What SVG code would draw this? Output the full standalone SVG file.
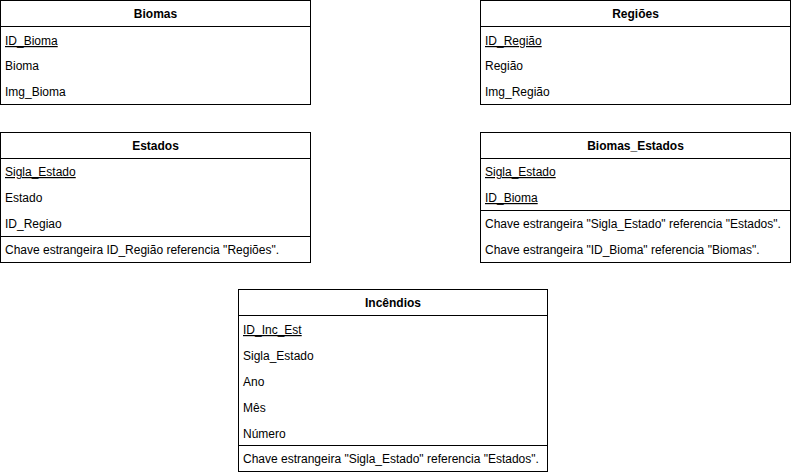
<svg xmlns="http://www.w3.org/2000/svg" width="792" height="476" viewBox="0 0 792 476">
<style>
.box{fill:#ffffff;stroke:#000000;stroke-width:1}
.ln{stroke:#000000;stroke-width:1;fill:none}
text{font-family:"Liberation Sans",Arial,Helvetica,sans-serif;font-size:12px;fill:#000000}
.h{font-weight:bold;text-anchor:middle}
.k{text-decoration:underline}
</style>
<rect width="792" height="476" fill="#ffffff"/>
<g id="connectors"></g>
<g id="biomas">
<rect class="box" x="0.5" y="0.5" width="310" height="104"/>
<line class="ln" x1="0.5" y1="26.5" x2="310.5" y2="26.5"/>
<text class="h" x="155.5" y="18">Biomas</text>
<text class="k" x="5" y="45">ID_Bioma</text>
<text x="5" y="70">Bioma</text>
<text x="5" y="96">Img_Bioma</text>
</g>
<g id="regioes">
<rect class="box" x="480.5" y="0.5" width="310" height="104"/>
<line class="ln" x1="480.5" y1="26.5" x2="790.5" y2="26.5"/>
<text class="h" x="635.5" y="18">Regiões</text>
<text class="k" x="485" y="45">ID_Região</text>
<text x="485" y="70">Região</text>
<text x="485" y="96">Img_Região</text>
</g>
<g id="estados">
<rect class="box" x="0.5" y="132.5" width="310" height="130"/>
<line class="ln" x1="0.5" y1="158.5" x2="310.5" y2="158.5"/>
<line class="ln" x1="0.5" y1="236.5" x2="310.5" y2="236.5"/>
<text class="h" x="155.5" y="150">Estados</text>
<text class="k" x="5" y="176">Sigla_Estado</text>
<text x="5" y="202">Estado</text>
<text x="5" y="228">ID_Regiao</text>
<text x="5" y="254">Chave estrangeira ID_Região referencia "Regiões".</text>
</g>
<g id="biomas_estados">
<rect class="box" x="480.5" y="132.5" width="310" height="130"/>
<line class="ln" x1="480.5" y1="158.5" x2="790.5" y2="158.5"/>
<line class="ln" x1="480.5" y1="210.5" x2="790.5" y2="210.5"/>
<text class="h" x="635.5" y="150">Biomas_Estados</text>
<text class="k" x="485" y="176">Sigla_Estado</text>
<text class="k" x="485" y="202">ID_Bioma</text>
<text x="485" y="228">Chave estrangeira "Sigla_Estado" referencia "Estados".</text>
<text x="485" y="254">Chave estrangeira "ID_Bioma" referencia "Biomas".</text>
</g>
<g id="incendios">
<rect class="box" x="238.5" y="289.5" width="309" height="182"/>
<line class="ln" x1="238.5" y1="315.5" x2="547.5" y2="315.5"/>
<line class="ln" x1="238.5" y1="445.5" x2="547.5" y2="445.5"/>
<text class="h" x="393" y="307">Incêndios</text>
<text class="k" x="243" y="334">ID_Inc_Est</text>
<text x="243" y="360">Sigla_Estado</text>
<text x="243" y="386">Ano</text>
<text x="243" y="412">Mês</text>
<text x="243" y="438">Número</text>
<text x="243" y="463">Chave estrangeira "Sigla_Estado" referencia "Estados".</text>
</g>
</svg>
